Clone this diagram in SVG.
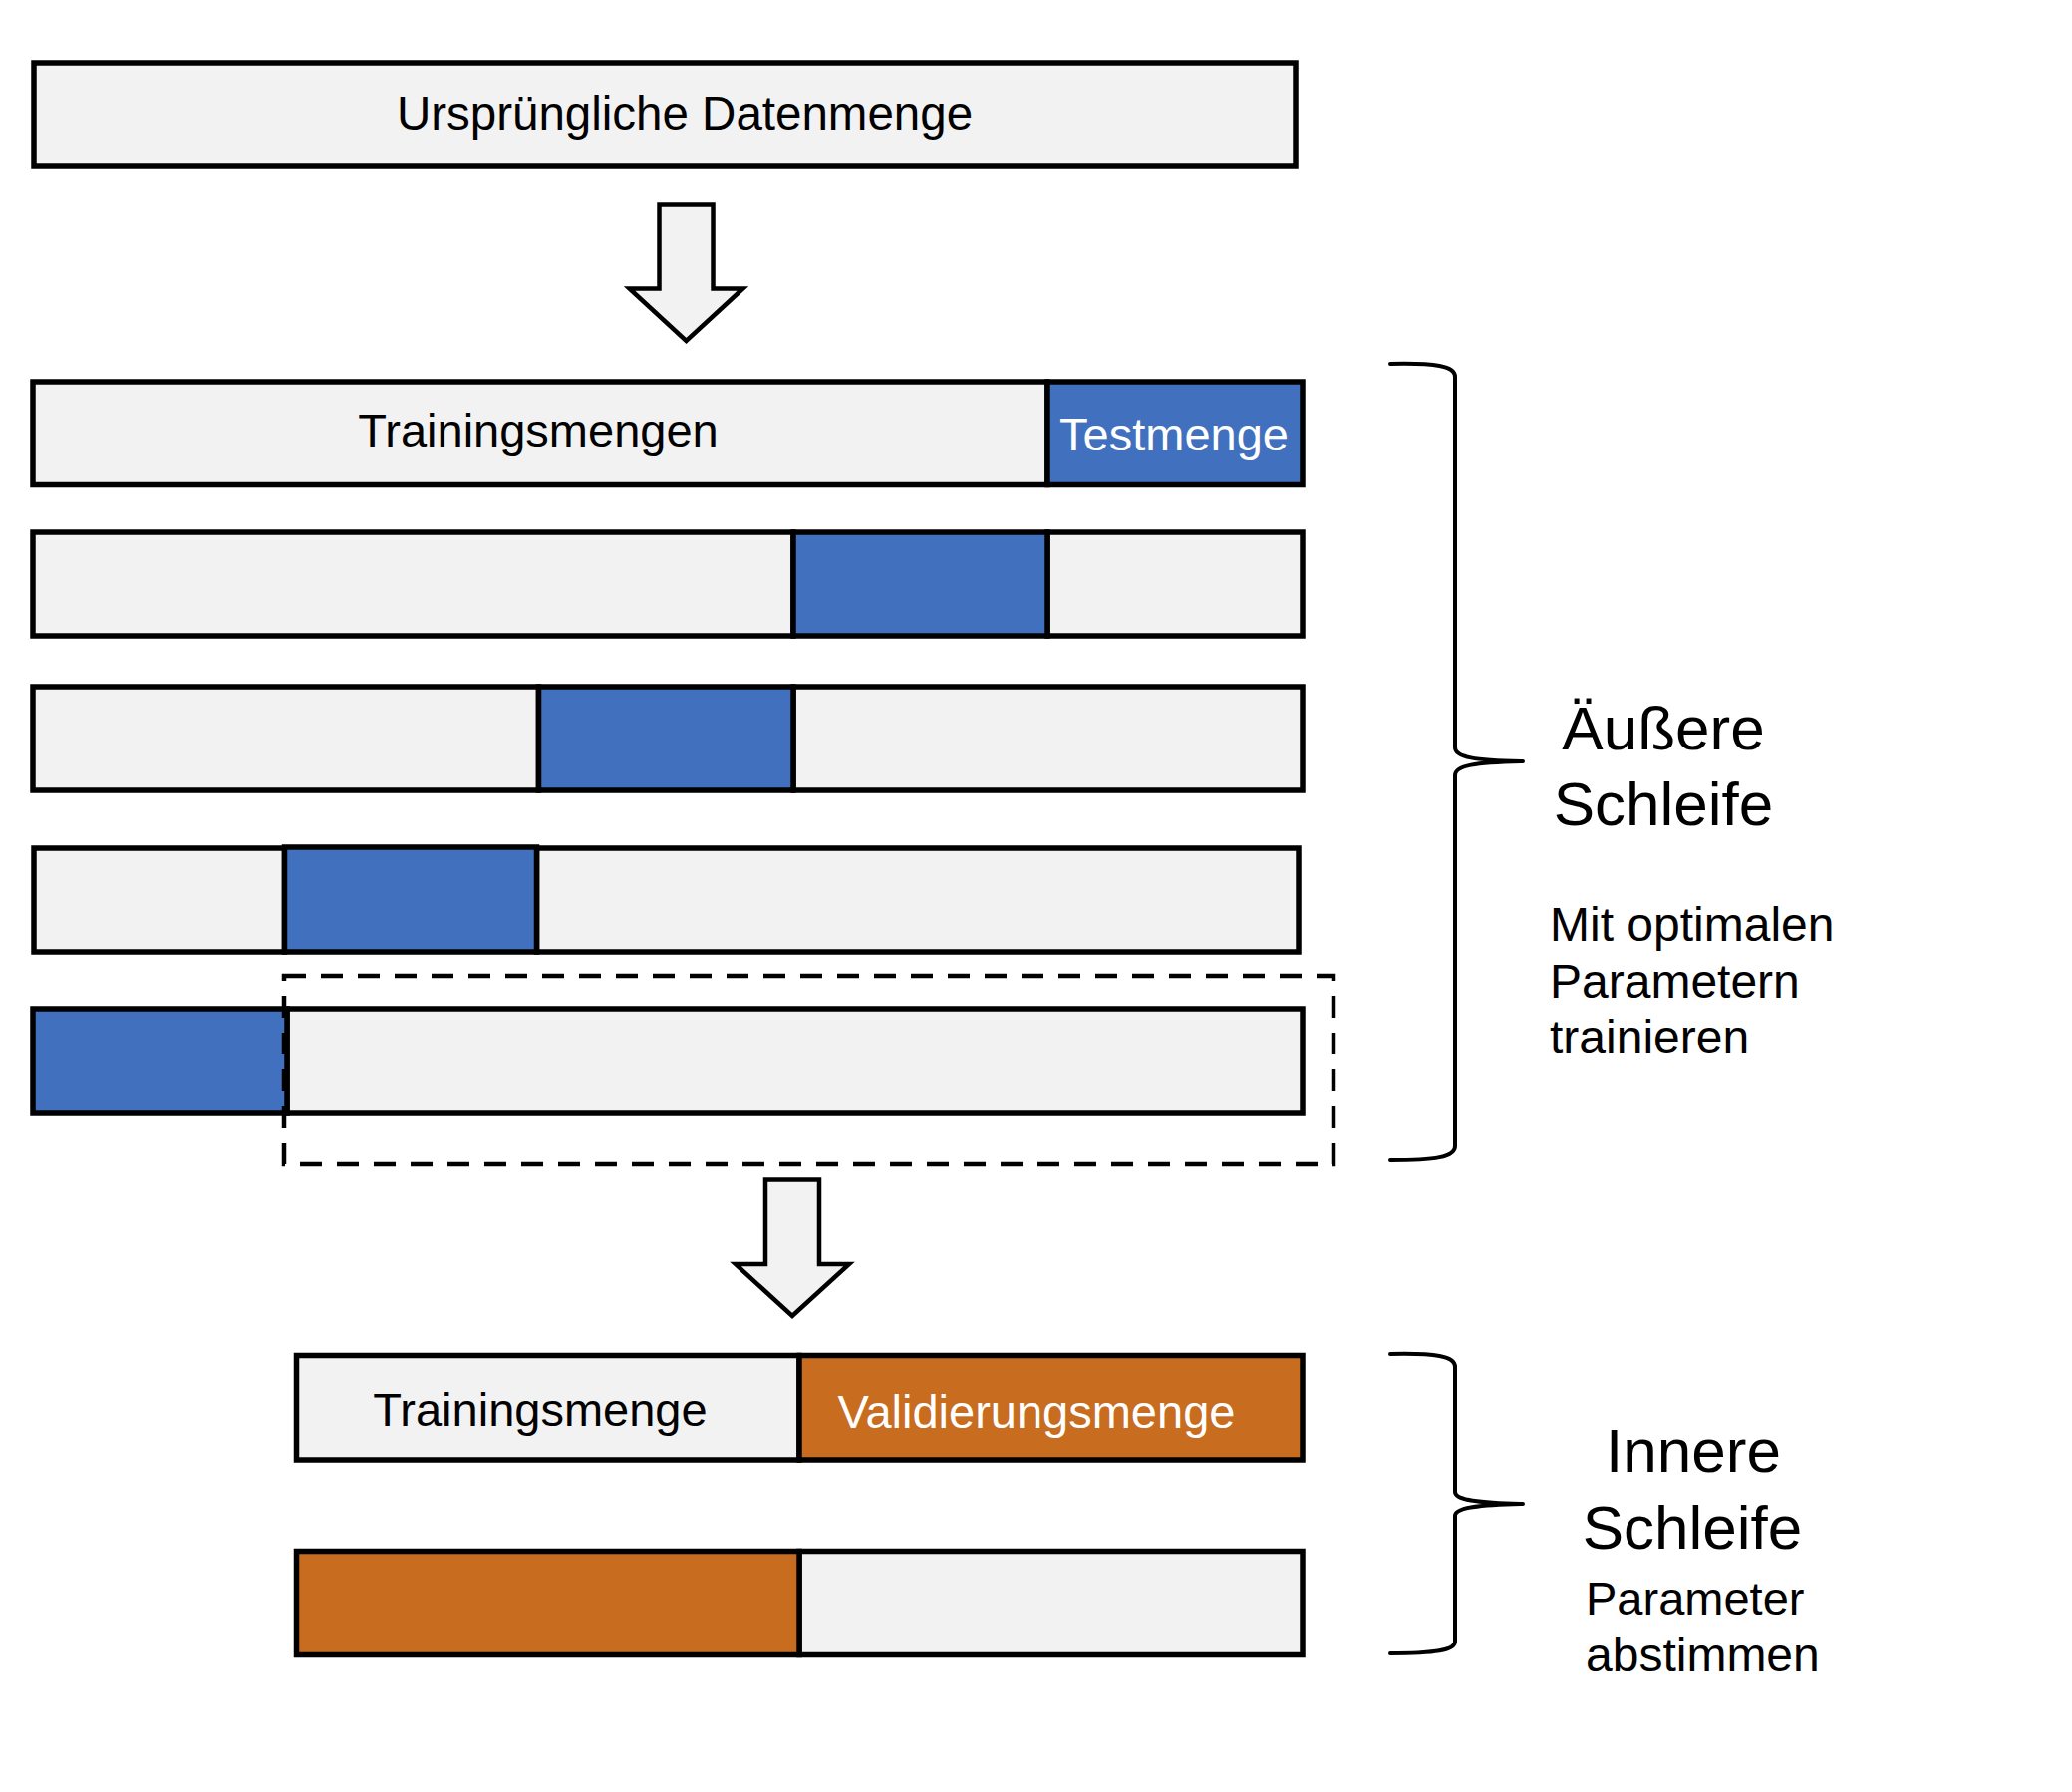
<svg xmlns="http://www.w3.org/2000/svg" width="2079" height="1798" viewBox="0 0 2079 1798">
<style>
.seg{stroke:#000;stroke-width:5.5;stroke-linejoin:miter}
.lt{fill:#F2F2F2}
.bl{fill:#4170BE}
.or{fill:#C86C20}
.t{font-family:"Liberation Sans",Arial,Helvetica,sans-serif;font-size:47px;fill:#000}
.w{fill:#FFF}
.big{font-family:"Liberation Sans",Arial,Helvetica,sans-serif;font-size:62px;fill:#000}
.mid{font-family:"Liberation Sans",Arial,Helvetica,sans-serif;font-size:48px;fill:#000}
.arrow{fill:#F2F2F2;stroke:#000;stroke-width:4.5;stroke-linejoin:miter}
.brace{fill:none;stroke:#000;stroke-width:4;stroke-linejoin:round;stroke-linecap:round}
.dash{fill:none;stroke:#000;stroke-width:4.5;stroke-dasharray:22 15}
</style>
<rect width="2079" height="1798" fill="#FFFFFF"/>
<g id="original">
<rect class="seg lt" x="34" y="63" width="1266" height="104"/>
<text class="t" x="687" y="130" text-anchor="middle" style="font-size:47.5px">Ursprüngliche Datenmenge</text>
</g>
<g id="row1">
<rect class="seg lt" x="33" y="383" width="1018" height="103.5"/>
<rect class="seg bl" x="1051" y="383" width="256" height="103.5"/>
<text class="t" x="540" y="448" text-anchor="middle">Trainingsmengen</text>
<text class="t w" x="1178" y="452" text-anchor="middle">Testmenge</text>
</g>
<g id="row2">
<rect class="seg lt" x="33" y="534" width="763" height="104"/>
<rect class="seg lt" x="1051" y="534" width="256" height="104"/>
<rect class="seg bl" x="796" y="534" width="255" height="104"/>
</g>
<g id="row3">
<rect class="seg lt" x="33" y="689" width="507.5" height="104"/>
<rect class="seg lt" x="796" y="689" width="511" height="104"/>
<rect class="seg bl" x="540.5" y="689" width="255.5" height="104"/>
</g>
<g id="row4">
<rect class="seg lt" x="34" y="851" width="251.5" height="104"/>
<rect class="seg lt" x="538.5" y="851" width="764.5" height="104"/>
<rect class="seg bl" x="285.5" y="850" width="253" height="105"/>
</g>
<g id="row5">
<rect class="seg lt" x="288" y="1012" width="1019" height="105"/>
<rect class="seg bl" x="33" y="1012" width="255" height="105"/>
</g>
<g id="inner-selection">
<rect class="dash" x="285" y="979" width="1053" height="189"/>
</g>
<g id="row6">
<rect class="seg lt" x="297.5" y="1360.5" width="504.5" height="104.5"/>
<rect class="seg or" x="802" y="1360.5" width="505" height="104.5"/>
<text class="t" x="542" y="1431" text-anchor="middle">Trainingsmenge</text>
<text class="t w" x="1040" y="1433" text-anchor="middle">Validierungsmenge</text>
</g>
<g id="row7">
<rect class="seg lt" x="802" y="1556.5" width="505" height="104"/>
<rect class="seg or" x="297.5" y="1556.5" width="504.5" height="104"/>
</g>
<g id="connectors">
<path class="arrow" d="M661.5,205.5 L715.5,205.5 L715.5,289.5 L745.5,289.5 L688.5,342 L631.5,289.5 L661.5,289.5 Z"/>
<path class="arrow" d="M768,1183.5 L822,1183.5 L822,1268 L852,1268 L795,1320 L738,1268 L768,1268 Z"/>
</g>
<g id="outer-loop">
<path class="brace" d="M1395,365 C1440,364 1460,367 1460,378 L1460,750 C1460,760 1480,763 1528,764 C1480,765 1460,768 1460,778 L1460,1150 C1460,1161 1440,1164 1395,1164"/>
<text class="big" x="1669" y="752" text-anchor="middle">Äußere</text>
<text class="big" x="1669" y="828" text-anchor="middle">Schleife</text>
<text class="mid" x="1555" y="944">Mit optimalen</text>
<text class="mid" x="1555" y="1001">Parametern</text>
<text class="mid" x="1555" y="1057">trainieren</text>
</g>
<g id="inner-loop">
<path class="brace" d="M1395,1359 C1440,1358 1460,1361 1460,1372 L1460,1497 C1460,1505 1480,1508 1528,1509 C1480,1510 1460,1513 1460,1521 L1460,1647 C1460,1656 1440,1659 1395,1659"/>
<text class="big" x="1699" y="1477" text-anchor="middle">Innere</text>
<text class="big" x="1698" y="1554" text-anchor="middle">Schleife</text>
<text class="mid" x="1591" y="1620" style="font-size:47px">Parameter</text>
<text class="mid" x="1591" y="1677" style="font-size:48px">abstimmen</text>
</g>
</svg>
